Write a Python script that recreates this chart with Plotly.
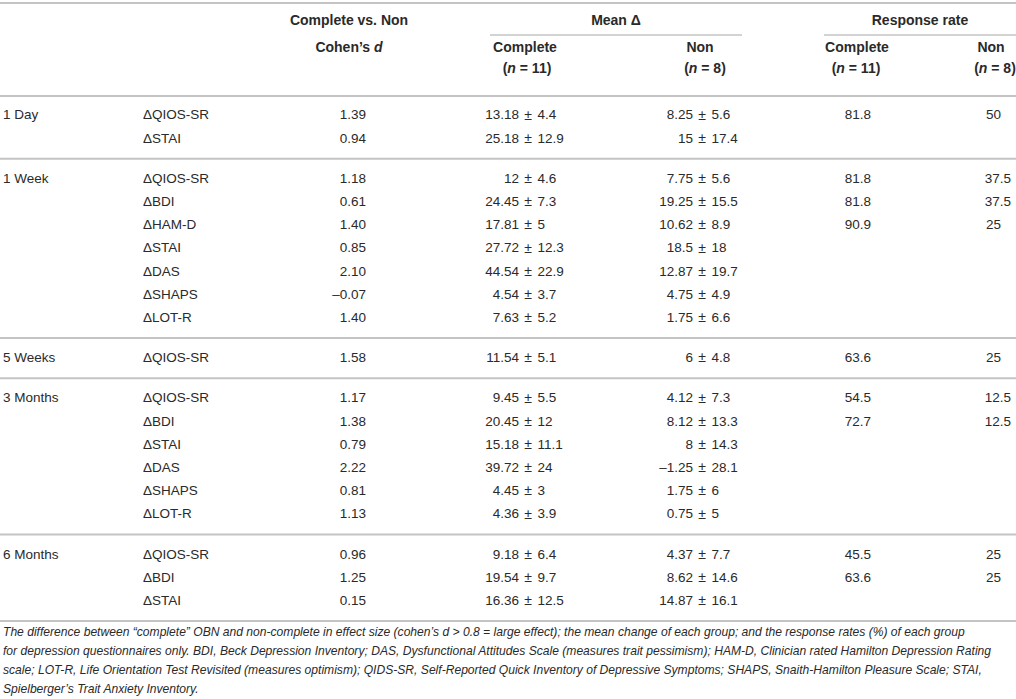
"""Complete vs. non-complete OBN table, drawn as text on a pixel-scaled plot."""

import plotly.graph_objects as go

timepoints = ["1 Day", "1 Week", "5 Weeks", "3 Months", "6 Months"]
group_sizes = [2, 7, 1, 6, 3]
measures = [
    "QIOS-SR", "STAI",
    "QIOS-SR", "BDI", "HAM-D", "STAI", "DAS", "SHAPS", "LOT-R",
    "QIOS-SR",
    "QIOS-SR", "BDI", "STAI", "DAS", "SHAPS", "LOT-R",
    "QIOS-SR", "BDI", "STAI",
]
cohens_d = [1.39, 0.94, 1.18, 0.61, 1.40, 0.85, 2.10, -0.07, 1.40, 1.58,
            1.17, 1.38, 0.79, 2.22, 0.81, 1.13, 0.96, 1.25, 0.15]
mean_complete = [13.18, 25.18, 12, 24.45, 17.81, 27.72, 44.54, 4.54, 7.63, 11.54,
                 9.45, 20.45, 15.18, 39.72, 4.45, 4.36, 9.18, 19.54, 16.36]
sd_complete = [4.4, 12.9, 4.6, 7.3, 5, 12.3, 22.9, 3.7, 5.2, 5.1,
               5.5, 12, 11.1, 24, 3, 3.9, 6.4, 9.7, 12.5]
mean_non = [8.25, 15, 7.75, 19.25, 10.62, 18.5, 12.87, 4.75, 1.75, 6,
            4.12, 8.12, 8, -1.25, 1.75, 0.75, 4.37, 8.62, 14.87]
sd_non = [5.6, 17.4, 5.6, 15.5, 8.9, 18, 19.7, 4.9, 6.6, 4.8,
          7.3, 13.3, 14.3, 28.1, 6, 5, 7.7, 14.6, 16.1]
rr_complete = [81.8, None, 81.8, 81.8, 90.9, None, None, None, None, 63.6,
               54.5, 72.7, None, None, None, None, 45.5, 63.6, None]
rr_non = [50, None, 37.5, 37.5, 25, None, None, None, None, 25,
          12.5, 12.5, None, None, None, None, 25, 25, None]

header_top = ["Complete vs. Non", "Mean Δ", "Response rate"]
header_sub = ["Cohen’s <i>d</i>", "Complete", "Non", "Complete", "Non"]
header_n = ["(<i>n</i> = 11)", "(<i>n</i> = 8)", "(<i>n</i> = 11)", "(<i>n</i> = 8)"]

footnote = [
    "The difference between “complete” OBN and non-complete in effect size (cohen’s d > 0.8 = large effect); "
    "the mean change of each group; and the response rates (%) of each group",
    "for depression questionnaires only. BDI, Beck Depression Inventory; DAS, Dysfunctional Attitudes Scale "
    "(measures trait pessimism); HAM-D, Clinician rated Hamilton Depression Rating",
    "scale; LOT-R, Life Orientation Test Revisited (measures optimism); QIDS-SR, Self-Reported Quick Inventory "
    "of Depressive Symptoms; SHAPS, Snaith-Hamilton Pleasure Scale; STAI,",
    "Spielberger’s Trait Anxiety Inventory.",
]

W, H = 1016, 699
FONT = "Liberation Sans, Arial, sans-serif"
TXT = "#2a2a2a"
RULE = "#c4c4c4"


def fmt(v, spec="g"):
    return "" if v is None else format(v, spec).replace("-", "–")


# row layout (pixels from the top)
row_y, first_y, last_y = [], [], []
y = 116.0
for g, n in enumerate(group_sizes):
    first_y.append(y)
    for k in range(n):
        row_y.append(y)
        y += 23.2
    last_y.append(y - 23.2)
    y += 17.0

fig = go.Figure()


def text_col(x, ys, texts, pos, size=13.5, family=FONT):
    if not isinstance(x, list):
        x = [x] * len(ys)
    fig.add_trace(go.Scatter(
        x=x, y=ys, text=texts, mode="text", textposition=pos,
        textfont=dict(family=family, size=size, color=TXT),
        hoverinfo="skip", showlegend=False,
    ))


def pm_col(x_pm, ys, means, sds):
    # value ± sd, lined up on the ± sign
    text_col(x_pm - 9, ys, [fmt(v) for v in means], "middle left")
    text_col(x_pm, ys, ["±"] * len(ys), "middle center", 14)
    text_col(x_pm + 9.5, ys, [fmt(v) for v in sds], "middle right")


# body
text_col(3, first_y, timepoints, "middle right")
text_col(143, row_y, ["Δ" + m for m in measures], "middle right")
text_col(366, row_y, [fmt(v, ".2f") for v in cohens_d], "middle left")
pm_col(528, row_y, mean_complete, sd_complete)
pm_col(702, row_y, mean_non, sd_non)
text_col(871, row_y, [fmt(v) for v in rr_complete], "middle left")
text_col([1011 if (v is not None and v % 1) else 1001 for v in rr_non],
         row_y, [fmt(v) for v in rr_non], "middle left")

# header
text_col([349, 616, 920], [21] * 3, ["<b>%s</b>" % t for t in header_top], "middle center", 14)
text_col([349, 525, 700, 857, 991], [48] * 5, ["<b>%s</b>" % t for t in header_sub], "middle center", 14)
text_col([527, 705, 856, 995], [69] * 4, ["<b>%s</b>" % t for t in header_n], "middle center", 14)

# footnote
text_col(3, [633, 652, 671, 690], ["<i>%s</i>" % t for t in footnote], "middle right", 12.1)

# rules
rules = [(0, W, 3), (0, W, 96)] + [(0, W, ly + 19.5) for ly in last_y]
for x0, x1, yy in rules:
    fig.add_shape(type="line", x0=x0, x1=x1, y0=yy, y1=yy, line=dict(color=RULE, width=2))
for x0, x1 in [(490, 742), (824, W)]:
    fig.add_shape(type="line", x0=x0, x1=x1, y0=35, y1=35, line=dict(color=RULE, width=1.5))

fig.update_layout(
    width=W, height=H,
    margin=dict(l=0, r=0, t=0, b=0),
    paper_bgcolor="white", plot_bgcolor="white",
    xaxis=dict(range=[0, W], visible=False, fixedrange=True),
    yaxis=dict(range=[H, 0], visible=False, fixedrange=True),
)

# the page body has an 8px default margin; drop it so pixels line up
fig.write_html("out.html", config={"displayModeBar": False},
               post_script="document.body.style.margin='0px';")
